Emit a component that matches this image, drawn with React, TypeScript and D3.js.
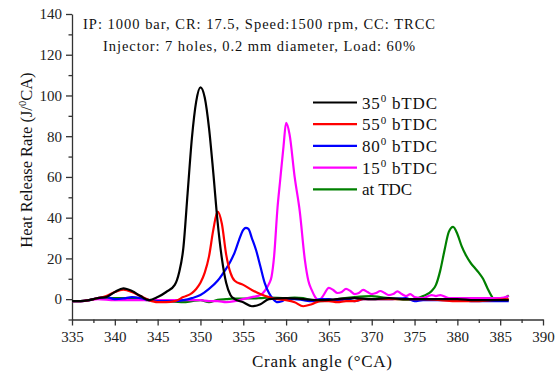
import React, { useEffect, useRef } from 'react';
import * as d3 from 'd3';

// crank angle (deg CA) and heat release rate (J/deg CA)
const bTdc35Angle = [335, 336, 337, 338, 339, 340, 341, 342, 343, 344, 345, 346, 347, 347.5, 348, 348.5, 349, 349.5, 350, 350.5, 351, 351.5, 352, 352.5, 353, 353.5, 354, 355, 356, 357, 358, 360, 362, 364, 366, 368, 370, 372, 374, 376, 378, 380, 382, 384, 386];
const bTdc35Hrr = [-1, -1, -0.5, 0.5, 1, 3.5, 5.3, 4, 1.5, -0.5, 1, 3.5, 7, 13, 25, 52, 79, 97, 104, 99, 84, 62, 38, 20, 8, 2, 0, -1.5, -3.5, -2.5, 0, 0.5, 0, -0.5, 0, 0.5, 0, 0.5, 0, 0, 0, 0, -0.5, -0.5, -0.5];

const bTdc55Angle = [335, 336, 337, 338, 339, 340, 341, 342, 343, 344, 345, 346, 347, 348, 349, 349.5, 350, 350.5, 351, 351.5, 352, 352.5, 353, 353.5, 354, 355, 356, 357, 358, 359, 360, 361, 362, 363, 364, 365, 366, 367, 368, 369, 370, 372, 374, 376, 378, 380, 382, 384, 386];
const bTdc55Hrr = [-1, -1, -0.5, 0.5, 1.5, 3.5, 4.6, 3.5, 1.5, -0.5, -1.5, -1.5, -1, 1, 3, 5, 8, 13, 21, 34, 43, 37, 22, 13, 9, 7, 4.5, 2.5, 1, 0, -0.5, -1.5, -3.5, -2.5, -1, -1, -1.5, -1, -1, 0, 0, 0, 0, 0, -0.5, -1, -1, -0.5, 0];

const bTdc80Angle = [335, 336, 337, 338, 339, 340, 341, 342, 343, 344, 345, 346, 347, 348, 349, 350, 351, 352, 353, 353.5, 354, 354.5, 355, 355.3, 355.6, 356, 356.5, 357, 357.5, 358, 358.5, 359, 359.5, 360, 361, 362, 363, 364, 365, 366, 367, 368, 369, 370, 372, 374, 375, 376, 378, 380, 382, 384, 386];
const bTdc80Hrr = [-1, -1, -0.5, 0.5, 1, 0, 0.3, 1, 0.5, -0.5, -1, -1, -1, -0.5, 0.5, 2, 5, 9, 15, 18.5, 23, 29, 34, 35, 34.5, 30, 24, 16, 8, 3, 0, -1.5, -1, 0, 0, -0.5, -1, 0, 0, -1, 0, -1, 0, 0, 0, 0.5, -1, -0.5, -0.5, -0.5, -1, -1, -1];

const bTdc15Angle = [335, 336, 337, 338, 340, 342, 344, 346, 348, 350, 351, 352, 353, 354, 355, 356, 357, 357.5, 358, 358.3, 358.6, 359, 359.3, 359.7, 360, 360.4, 361, 361.6, 362.2, 362.6, 363, 363.4, 363.8, 364.3, 365, 365.5, 366, 366.5, 367, 367.5, 368, 368.5, 369, 369.5, 370, 370.5, 371, 371.5, 372, 372.5, 373, 373.5, 374, 374.5, 375, 376, 377, 377.5, 378, 379, 380, 382, 384, 385, 386];
const bTdc15Hrr = [-1, -1, -0.5, 0, -0.5, -0.5, -0.5, -0.5, -0.5, -0.5, -1, -1, -1.5, -1, 0, 1, 2, 4, 7.5, 11, 21, 45, 58, 75, 86.5, 81, 60, 43, 19, 9, 4.4, 1, -0.8, 1.5, 5.5, 4.5, 3, 3.5, 5, 4, 2.5, 3, 4.5, 3.5, 2.5, 3, 4, 3, 2, 2.5, 3.8, 2.5, 1.5, 2.5, 1, 0.5, 2, 1.5, 2, 0.5, 0.5, 0.5, 0.5, 0.5, 1.5];

const atTdcAngle = [335, 336, 337, 338, 339, 340, 341, 342, 343, 344, 345, 346, 347, 348, 349, 350, 351, 352, 353, 354, 356, 357, 358, 360, 361, 362, 363, 364, 365, 366, 368, 370, 371, 372, 374, 375, 376, 377, 377.5, 378, 378.5, 379, 379.5, 380, 380.5, 381, 381.6, 382, 382.5, 383, 383.5, 384, 384.4, 385, 385.5, 386];
const atTdcHrr = [-1, -1, -0.5, 0.3, 0.5, 0.5, 0.5, 0.5, 0, -0.5, -0.5, -1, -1.2, -1.5, -1, -0.5, -1.5, -0.3, 0, 0.3, 0.3, 0.5, 0.8, 0.5, 0.8, 0.5, -0.5, -1, -0.8, 0, 1, 1.5, 1, 0.5, -0.3, 0, 1.5, 4, 7, 14, 24, 33, 35.5, 32, 26, 21.5, 17.5, 15.5, 13, 10, 5.5, 1.5, -0.8, -0.6, 0.3, 1.8];

const seriesNames = ['35', '55', '80', '15', 'TDC'];
const seriesColors = ['#000000', '#ff0000', '#0000ff', '#ff00ff', '#008000'];
const seriesAngles = [bTdc35Angle, bTdc55Angle, bTdc80Angle, bTdc15Angle, atTdcAngle];
const seriesValues = [bTdc35Hrr, bTdc55Hrr, bTdc80Hrr, bTdc15Hrr, atTdcHrr];

const xTicks = [335, 340, 345, 350, 355, 360, 365, 370, 375, 380, 385, 390];
const yTicks = [0, 20, 40, 60, 80, 100, 120, 140];

const App = () => {
  const ref = useRef<SVGSVGElement | null>(null);

  useEffect(() => {
    const svg = d3.select(ref.current);
    svg.selectAll('*').remove();

    const font = '"Liberation Serif", "Times New Roman", serif';
    const x = d3.scaleLinear().domain([335, 390]).range([72, 543]);
    const y = d3.scaleLinear().domain([-10, 140]).range([319.5, 14]);

    // axes: left and bottom only, outward ticks
    const xAxis = svg.append('g')
      .attr('transform', 'translate(0,319.5)')
      .call(d3.axisBottom(x).tickValues(xTicks).tickSize(6).tickSizeOuter(0).tickFormat(d3.format('d')));
    svg.append('g')
      .attr('transform', 'translate(0,319.5)')
      .call(d3.axisBottom(x).tickValues(d3.range(337.5, 390, 5)).tickSize(3.5).tickSizeOuter(0).tickFormat(() => ''))
      .select('.domain').remove();

    const yAxis = svg.append('g')
      .attr('transform', 'translate(72,0)')
      .call(d3.axisLeft(y).tickValues(yTicks).tickSize(6).tickSizeOuter(0).tickPadding(4));
    svg.append('g')
      .attr('transform', 'translate(72,0)')
      .call(d3.axisLeft(y).tickValues(d3.range(-10, 140, 20)).tickSize(3.5).tickSizeOuter(0).tickFormat(() => ''))
      .select('.domain').remove();

    [xAxis, yAxis].forEach(g => {
      g.attr('font-family', null);
      g.selectAll('text').style('font-family', font).style('font-size', '15px').attr('fill', '#222');
    });
    xAxis.selectAll('text').attr('dy', '1em').attr('y', 7);
    svg.selectAll('.domain').attr('stroke', '#333').attr('stroke-width', 1.3);
    svg.selectAll('.tick line').attr('stroke', '#333').attr('stroke-width', 1.3);

    // curves
    const line = d3.line<[number, number]>()
      .x(d => x(d[0]))
      .y(d => y(d[1]))
      .curve(d3.curveMonotoneX);

    const drawOrder = [4, 3, 2, 1, 0];
    drawOrder.forEach(i => {
      const pts = seriesAngles[i].map((a, k) => [a, seriesValues[i][k]] as [number, number]);
      svg.append('path')
        .attr('d', line(pts))
        .attr('fill', 'none')
        .attr('stroke', seriesColors[i])
        .attr('stroke-width', 2.2)
        .attr('stroke-linejoin', 'round');
    });

    // legend
    const legend = svg.append('g');
    seriesNames.forEach((name, i) => {
      const ly = 102.5 + i * 21.7;
      legend.append('line')
        .attr('x1', 313).attr('x2', 357).attr('y1', ly).attr('y2', ly)
        .attr('stroke', seriesColors[i]).attr('stroke-width', 2.2);
      const t = legend.append('text')
        .attr('x', 362).attr('y', ly + 6)
        .style('font-family', font).style('font-size', '17px').attr('fill', '#111');
      if (name === 'TDC') {
        t.text('at TDC');
      } else {
        t.attr('textLength', 75);
        t.append('tspan').text(name);
        t.append('tspan').attr('dy', -6.5).style('font-size', '11px').text('0');
        t.append('tspan').attr('dy', 6.5).text(' bTDC');
      }
    });

    // annotation
    svg.append('text')
      .attr('x', 83).attr('y', 29)
      .attr('textLength', 352)
      .style('font-family', font).style('font-size', '14.5px').attr('fill', '#111')
      .text('IP: 1000 bar, CR: 17.5, Speed:1500 rpm, CC: TRCC');
    svg.append('text')
      .attr('x', 103).attr('y', 51)
      .attr('textLength', 312)
      .style('font-family', font).style('font-size', '14.5px').attr('fill', '#111')
      .text('Injector: 7 holes, 0.2 mm diameter, Load: 60%');

    // axis titles
    const yl = svg.append('text')
      .attr('transform', 'translate(32,160) rotate(-90)')
      .attr('text-anchor', 'middle')
      .style('font-family', font).style('font-size', '16.5px').attr('fill', '#111');
    yl.append('tspan').text('Heat Release Rate (J/');
    yl.append('tspan').attr('dy', -6.5).style('font-size', '10.5px').text('0');
    yl.append('tspan').attr('dy', 6.5).text('CA)');

    svg.append('text')
      .attr('x', 322).attr('y', 367)
      .attr('text-anchor', 'middle')
      .attr('textLength', 140)
      .style('font-family', font).style('font-size', '17px').attr('fill', '#111')
      .text('Crank angle (\u00B0CA)');
  }, []);

  return (
    <svg ref={ref} width={558} height={372}
      style={{ position: 'absolute', left: 0, top: 0, background: '#fff' }} />
  );
};

export default App;
